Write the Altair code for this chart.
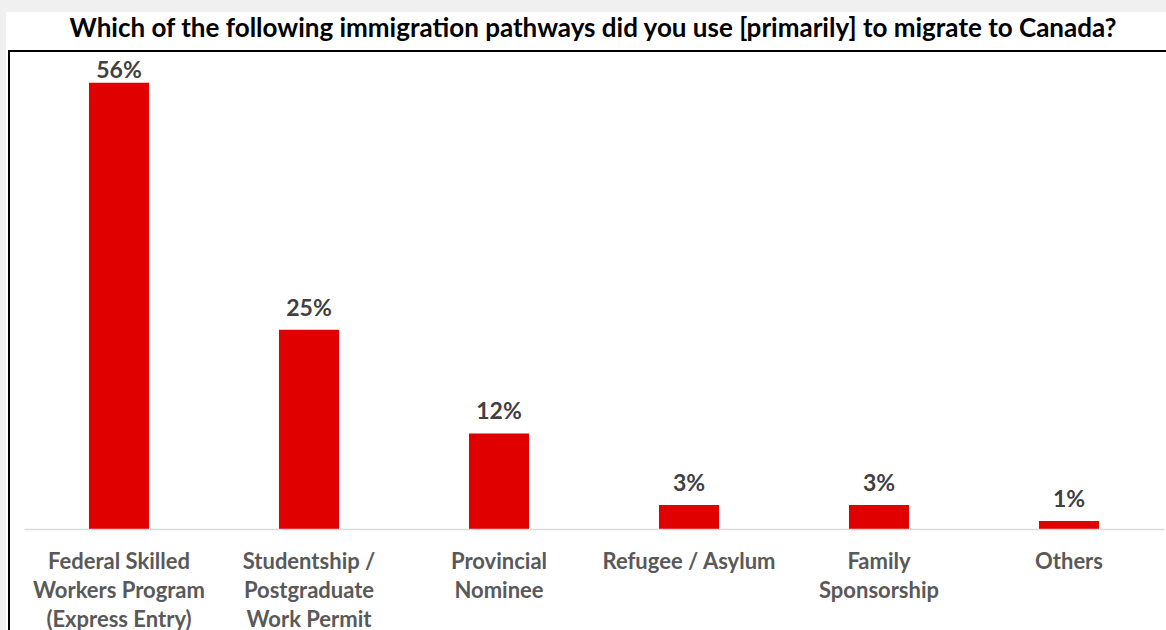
import altair as alt
import pandas as pd

categories = [
    "Federal Skilled|Workers Program|(Express Entry)",
    "Studentship /|Postgraduate|Work Permit",
    "Provincial|Nominee",
    "Refugee / Asylum",
    "Family|Sponsorship",
    "Others",
]
values = [56, 25, 12, 3, 3, 1]
labels = ["56%", "25%", "12%", "3%", "3%", "1%"]
title_text = "Which of the following immigration pathways did you use [primarily] to migrate to Canada?"

df = pd.DataFrame({"cat": categories, "val": values, "lab": labels})

FONT = "Lato"
W, H = 1140, 478
YMAX = 60

base = alt.Chart(df)

white_bg = base.mark_rect(fill="white").encode(
    x=alt.value(-18), x2=alt.value(1200), y=alt.value(-39), y2=alt.value(700)
)
frame = base.mark_rect(fill=None, stroke="black", strokeWidth=1.5).encode(
    x=alt.value(-15), x2=alt.value(1200), y=alt.value(0), y2=alt.value(700)
)
title = alt.Chart(pd.DataFrame({"t": [title_text]})).mark_text(
    font=FONT, fontSize=26, fontWeight="bold", color="black", baseline="alphabetic",
    align="center"
).encode(x=alt.value(569), y=alt.value(-14), text="t:N")

xenc = alt.X(
    "cat:N",
    sort=categories,
    scale=alt.Scale(paddingInner=0.684, paddingOuter=0.342),
    axis=alt.Axis(
        title=None,
        labelAngle=0,
        labelExpr="split(datum.label, '|')",
        labelFont=FONT,
        labelFontSize=22,
        labelFontWeight="bold",
        labelColor="#595959",
        labelLineHeight=29,
        labelPadding=22,
        labelLimit=0,
        ticks=False,
        domainColor="#d9d9d9",
        domainWidth=1.5,
        zindex=1,
    ),
)
yenc = alt.Y("val:Q", scale=alt.Scale(domain=[0, YMAX]), axis=None)

bars = base.mark_bar(color="#E00000").encode(x=xenc, y=yenc)
text = (
    base.transform_calculate(ly="min(datum.val, 54.9)")
    .mark_text(font=FONT, fontSize=23, fontWeight="bold", color="#404040", baseline="middle", dy=-21)
    .encode(x=alt.X("cat:N", sort=categories), y=alt.Y("ly:Q", scale=alt.Scale(domain=[0, YMAX]), axis=None), text="lab:N")
)

chart = (
    alt.layer(white_bg, frame, bars, text, title)
    .properties(
        width=W,
        height=H,
        background="#f0f0f0",
        padding={"left": 24, "top": 51, "right": 2, "bottom": 101},
        autosize=alt.AutoSizeParams(type="none"),
    )
    .configure_view(stroke=None)
)

chart.save("out.html", embed_options={"renderer": "svg", "actions": False})
